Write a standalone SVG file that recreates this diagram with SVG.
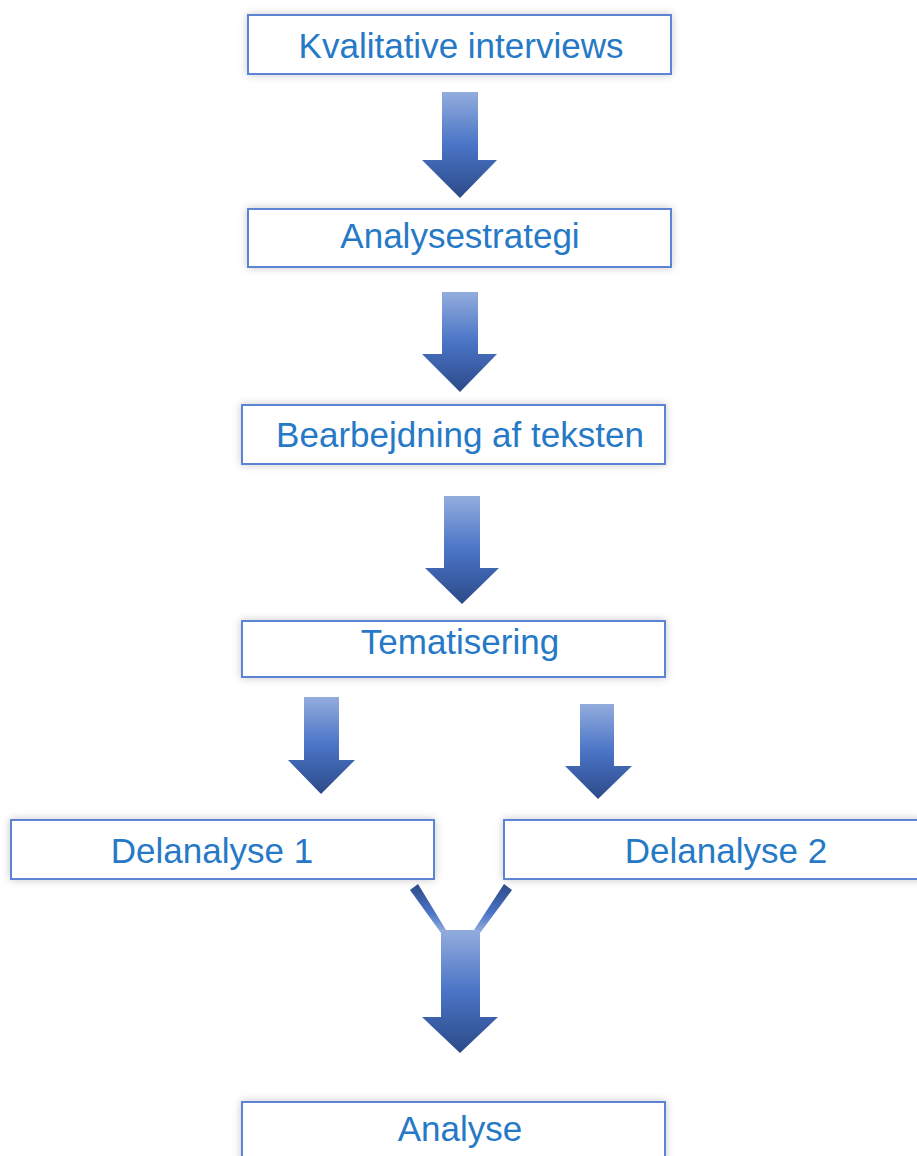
<svg xmlns="http://www.w3.org/2000/svg" width="917" height="1156" viewBox="0 0 917 1156">
<defs>
<linearGradient id="ag" x1="0" y1="0" x2="0" y2="1">
<stop offset="0" stop-color="#93acdd"/>
<stop offset="0.5" stop-color="#4a74c6"/>
<stop offset="1" stop-color="#2c4a88"/>
</linearGradient>
<linearGradient id="bg" gradientUnits="userSpaceOnUse" x1="0" y1="884" x2="0" y2="932">
<stop offset="0" stop-color="#2c4a88"/>
<stop offset="0.6" stop-color="#4a74c6"/>
<stop offset="1" stop-color="#93acdd"/>
</linearGradient>
<filter id="sh" x="-10%" y="-40%" width="120%" height="180%">
<feDropShadow dx="0" dy="0" stdDeviation="4" flood-color="#000" flood-opacity="0.22"/>
</filter>
<style>
.box{fill:#fff;stroke:#5b84d2;stroke-width:2;filter:url(#sh)}
.lbl{font-family:"Liberation Sans",Arial,sans-serif;font-size:35px;fill:#2679c6;text-anchor:middle}
.arr{fill:url(#ag)}
.br{fill:url(#bg)}
</style>
</defs>
<rect width="917" height="1156" fill="#fff"/>
<g id="n1"><rect class="box" x="248" y="15" width="423" height="59"/><text class="lbl" x="461" y="58">Kvalitative interviews</text></g>
<g id="n2"><rect class="box" x="248" y="209" width="423" height="58"/><text class="lbl" x="460" y="248">Analysestrategi</text></g>
<g id="n3"><rect class="box" x="242" y="405" width="423" height="59"/><text class="lbl" x="460" y="447">Bearbejdning af teksten</text></g>
<g id="n4"><rect class="box" x="242" y="621" width="423" height="56"/><text class="lbl" x="460" y="654">Tematisering</text></g>
<g id="n5"><rect class="box" x="11" y="820" width="423" height="59"/><text class="lbl" x="212" y="863">Delanalyse 1</text></g>
<g id="n6"><rect class="box" x="504" y="820" width="420" height="59"/><text class="lbl" x="726" y="863">Delanalyse 2</text></g>
<g id="n7"><rect class="box" x="242" y="1102" width="423" height="60"/><text class="lbl" x="460" y="1141">Analyse</text></g>
<g id="connectors">
<path class="arr" d="M442,92 H478 V160 H497 L460,198 L422,160 H442 Z"/>
<path class="arr" d="M442,292 H478 V354 H497 L460,392 L422,354 H442 Z"/>
<path class="arr" d="M444,496 H480 V568 H499 L462,604 L425,568 H444 Z"/>
<path class="arr" d="M304,697 H339 V760 H355 L321,794 L288,760 H304 Z"/>
<path class="arr" d="M580,704 H614 V766 H632 L598,799 L565,766 H580 Z"/>
<path class="br" d="M410,890 L418,884 L446,930 H474 L504,884 L512,890 L480,933 H441 Z"/>
<path class="arr" d="M441,930 H480 V1017 H498 L460,1053 L422,1017 H441 Z"/>
</g>
</svg>
